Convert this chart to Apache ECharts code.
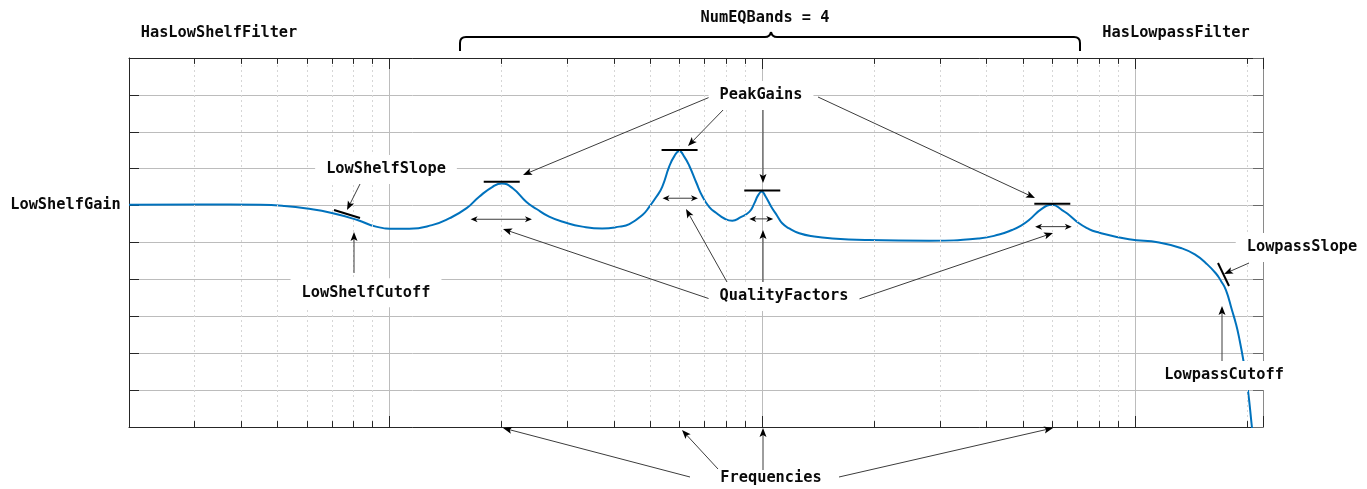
<!DOCTYPE html>
<html>
<head>
<meta charset="utf-8">
<script src="https://cdn.jsdelivr.net/npm/echarts@6/dist/echarts.min.js"></script>
<style>
  html, body { margin: 0; padding: 0; background: #fff; }
  #main { width: 1367px; height: 489px; }
</style>
</head>
<body>
<div id="main"></div>
<script>
// EQ response: frequency (Hz) and gain (dB)
var freqHz = [20, 31, 45, 52, 60, 70, 82, 92, 104, 113, 130, 145, 161, 174, 189, 200, 214, 233, 248, 268,
  296, 329, 372, 414, 440, 477, 498, 520, 539, 563, 581, 599, 618, 637, 666, 690, 721, 753, 791, 831,
  873, 923, 952, 976, 997, 1019, 1057, 1097, 1131, 1181, 1257, 1378, 1541, 1900, 2804, 3817, 4319, 4680,
  4947, 5196, 5632, 5992, 6373, 6655, 7077, 7435, 7860, 9636, 11600, 13370, 14570, 15500, 16490, 17010,
  17540, 18200, 18660, 19000, 19600, 20090, 20590, 20850];
var gainDb = [5.1, 5.15, 5.1, 4.95, 4.6, 4.0, 3.05, 2.15, 1.85, 1.85, 2.35, 3.3, 4.65, 6.2, 7.55, 8.0, 7.35, 5.5, 4.54, 3.5,
  2.7, 2.15, 1.9, 2.15, 2.5, 3.73, 4.85, 6.2, 7.55, 10.3, 11.7, 12.4, 11.6, 10.4, 8.06, 6.3, 4.8, 4.0, 3.25, 2.95,
  3.4, 4.15, 5.3, 6.45, 6.9, 6.3, 4.85, 3.6, 2.6, 1.9, 1.25, 0.81, 0.55, 0.35, 0.25, 0.55, 1.08, 1.7,
  2.3, 3.05, 4.6, 5.1, 4.4, 3.73, 2.6, 1.96, 1.45, 0.45, 0.0, -0.8, -1.7, -2.8, -4.2, -5.22,
  -6.45, -9.15, -11.04, -12.75, -16.4, -20, -25, -27.4];

// peak bands
var peakFreqs = [200, 600, 1000, 6000];
var peakGains = [8.1, 12.4, 6.9, 5.1];
// quality factor spans (low / high edge, level in dB)
var qLow = [165, 540, 923, 5395];
var qHigh = [241, 672, 1070, 6767];
var qLevel = [3.15, 6.0, 3.2, 2.15];

// minor log grid lines
var minorFreqs = [30, 40, 50, 60, 70, 80, 90, 200, 300, 400, 500, 600, 700, 800, 900,
  2000, 3000, 4000, 5000, 6000, 7000, 8000, 9000, 20000];

var curve = freqHz.map(function (f, i) { return [f, gainDb[i]]; });

var darkAxis = '#262626';
var gridGray = '#bcbcbc';
var FONT = 'bold 15.3px "DejaVu Sans Mono", monospace';

var option = {
    animation: false,
    grid: { left: 129, right: 104, top: 58, bottom: 62, outerBoundsMode: 'none' },
    xAxis: [
        {
            type: 'log', min: 20, max: 22050, logBase: 10,
            axisLine: { show: true, onZero: false, lineStyle: { color: darkAxis, width: 1 } },
            axisTick: { show: true, inside: true, length: 11, lineStyle: { color: darkAxis } },
            axisLabel: { show: false },
            splitLine: { show: true, lineStyle: { color: gridGray, width: 1 } }
        },
        {
            type: 'log', min: 20, max: 22050, logBase: 10, position: 'top',
            axisLine: { show: true, onZero: false, lineStyle: { color: darkAxis, width: 1 } },
            axisTick: { show: true, inside: true, length: 11, lineStyle: { color: darkAxis } },
            axisLabel: { show: false },
            splitLine: { show: false }
        }
    ],
    yAxis: [
        {
            type: 'value', min: -25, max: 25, interval: 5,
            axisLine: { show: true, onZero: false, lineStyle: { color: darkAxis, width: 1 } },
            axisTick: { show: true, inside: true, length: 10, lineStyle: { color: darkAxis } },
            axisLabel: { show: false },
            splitLine: { show: true, lineStyle: { color: gridGray, width: 1 } }
        },
        {
            type: 'value', min: -25, max: 25, interval: 5, position: 'right',
            axisLine: { show: true, onZero: false, lineStyle: { color: '#8a8a8a', width: 1 } },
            axisTick: { show: true, inside: true, length: 10, lineStyle: { color: '#6a6a6a' } },
            axisLabel: { show: false },
            splitLine: { show: false }
        }
    ],
    series: [
        {
            // minor grid (dotted)
            type: 'line', data: [], z: 1, silent: true,
            markLine: {
                silent: true, symbol: ['none', 'none'], label: { show: false },
                lineStyle: { type: [2, 3], color: '#d6d6d6', width: 1 },
                data: minorFreqs.map(function (f) { return { xAxis: f }; })
            }
        },
        {
            name: 'response', type: 'line', data: curve, z: 3,
            showSymbol: false, smooth: 0.5, clip: true,
            lineStyle: { color: '#0072BD', width: 2 },
            itemStyle: { color: '#0072BD' }
        },
        {
            // minor ticks on top and bottom edges
            type: 'line', data: [], z: 4, silent: true,
            markLine: {
                silent: true, symbol: ['none', 'none'], label: { show: false },
                lineStyle: { type: 'solid', color: darkAxis, width: 1 },
                data: minorFreqs.map(function (f) { return [{ coord: [f, -25] }, { coord: [f, -24.2] }]; })
                    .concat(minorFreqs.map(function (f) { return [{ coord: [f, 25] }, { coord: [f, 24.2] }]; }))
            }
        }
    ]
};

var chart = echarts.init(document.getElementById('main'));
chart.setOption(option);

function px(f, g) {
    return chart.convertToPixel({ seriesIndex: 1 }, [f, g]);
}

function arrowHead(x1, y1, x2, y2, L, W) {
    var a = Math.atan2(y2 - y1, x2 - x1);
    var c = Math.cos(a), s = Math.sin(a);
    var bx = x2 - L * c, by = y2 - L * s;
    var nx = -s * W, ny = c * W;
    var mx = x2 - (L - 2) * c, my = y2 - (L - 2) * s;
    return {
        type: 'polygon', z: 50,
        shape: { points: [[x2, y2], [bx + nx, by + ny], [mx, my], [bx - nx, by - ny]] },
        style: { fill: '#000' }
    };
}

function arrow(x1, y1, x2, y2) {
    var a = Math.atan2(y2 - y1, x2 - x1);
    return [
        { type: 'line', z: 50, shape: { x1: x1, y1: y1, x2: x2 - 6 * Math.cos(a), y2: y2 - 6 * Math.sin(a) },
          style: { stroke: '#3c3c3c', lineWidth: 1 } },
        arrowHead(x1, y1, x2, y2, 9, 3.5)
    ];
}

function dblArrow(x1, y, x2) {
    return [
        { type: 'line', z: 50, shape: { x1: x1 + 4, y1: y, x2: x2 - 4, y2: y }, style: { stroke: '#3c3c3c', lineWidth: 1 } },
        arrowHead(x2, y, x1, y, 7, 3),
        arrowHead(x1, y, x2, y, 7, 3)
    ];
}

function bar(x1, y1, x2, y2) {
    return { type: 'line', z: 50, shape: { x1: x1, y1: y1, x2: x2, y2: y2 }, style: { stroke: '#000', lineWidth: 2 } };
}

function curveSeg(x1, y1, cx, cy, x2, y2) {
    return { type: 'bezierCurve', z: 50, shape: { x1: x1, y1: y1, cpx1: cx, cpy1: cy, x2: x2, y2: y2 },
             style: { stroke: '#000', lineWidth: 2, fill: null } };
}

function label(text, x, y, boxed) {
    var st = { text: text, x: x, y: y, align: 'center', verticalAlign: 'middle', font: FONT, fill: '#0a0a0a' };
    if (boxed) { st.backgroundColor = '#fff'; st.padding = [7, 11]; }
    return { type: 'text', z: 60, style: st };
}

var g = [];

// peak gain bars and quality factor spans, placed from data
peakFreqs.forEach(function (f, i) {
    var p = px(f, peakGains[i]);
    g.push(bar(p[0] - 18, p[1] - 1, p[0] + 18, p[1] - 1));
    var a = px(qLow[i], qLevel[i]), b = px(qHigh[i], qLevel[i]);
    g = g.concat(dblArrow(a[0], a[1], b[0]));
});

// header texts and the brace
g.push(label('HasLowShelfFilter', 219, 33.5));
g.push(label('NumEQBands = 4', 765, 18.5));
g.push(label('HasLowpassFilter', 1176, 33));
g.push(bar(460, 51, 460, 43));
g.push(curveSeg(460, 43, 460, 37, 466, 37));
g.push(bar(466, 37, 765, 37));
g.push(curveSeg(765, 37, 770, 37, 771, 32));
g.push(curveSeg(771, 32, 772, 37, 777, 37));
g.push(bar(777, 37, 1074, 37));
g.push(curveSeg(1074, 37, 1080, 37, 1080, 43));
g.push(bar(1080, 43, 1080, 51));

g.push(label('LowShelfGain', 65.5, 205));

// low shelf slope / cutoff
g.push(label('LowShelfSlope', 386, 169.5, true));
g = g.concat(arrow(360, 184, 347, 210));
g.push(bar(334, 210, 360, 218));
g.push(label('LowShelfCutoff', 366, 292.7, true));
g = g.concat(arrow(354, 273, 354, 232));

// peak gains
g.push(label('PeakGains', 761, 95.5, true));
g = g.concat(arrow(710, 97, 523, 175));
g = g.concat(arrow(726, 107, 688, 146));
g = g.concat(arrow(763, 109, 763, 183));
g = g.concat(arrow(818, 97, 1035, 198));

// quality factors
g.push(label('QualityFactors', 784, 296.5, true));
g = g.concat(arrow(710, 299, 503, 229));
g = g.concat(arrow(727, 282, 686, 209));
g = g.concat(arrow(763, 284, 763, 230));
g = g.concat(arrow(859, 299, 1053, 233));

// frequencies
g.push(label('Frequencies', 771, 478.5));
g = g.concat(arrow(690, 477, 503, 428));
g = g.concat(arrow(718, 469, 682, 430));
g = g.concat(arrow(763, 470, 763, 428));
g = g.concat(arrow(839, 477, 1053, 428));

// lowpass slope / cutoff
g.push(label('LowpassSlope', 1302, 247.5, true));
g = g.concat(arrow(1249, 263, 1224, 274));
g.push(bar(1218, 263, 1229, 286));
g.push(label('LowpassCutoff', 1224, 375.5, true));
g = g.concat(arrow(1222, 361, 1222, 306));

chart.setOption({ graphic: { elements: g } });
</script>
</body>
</html>
